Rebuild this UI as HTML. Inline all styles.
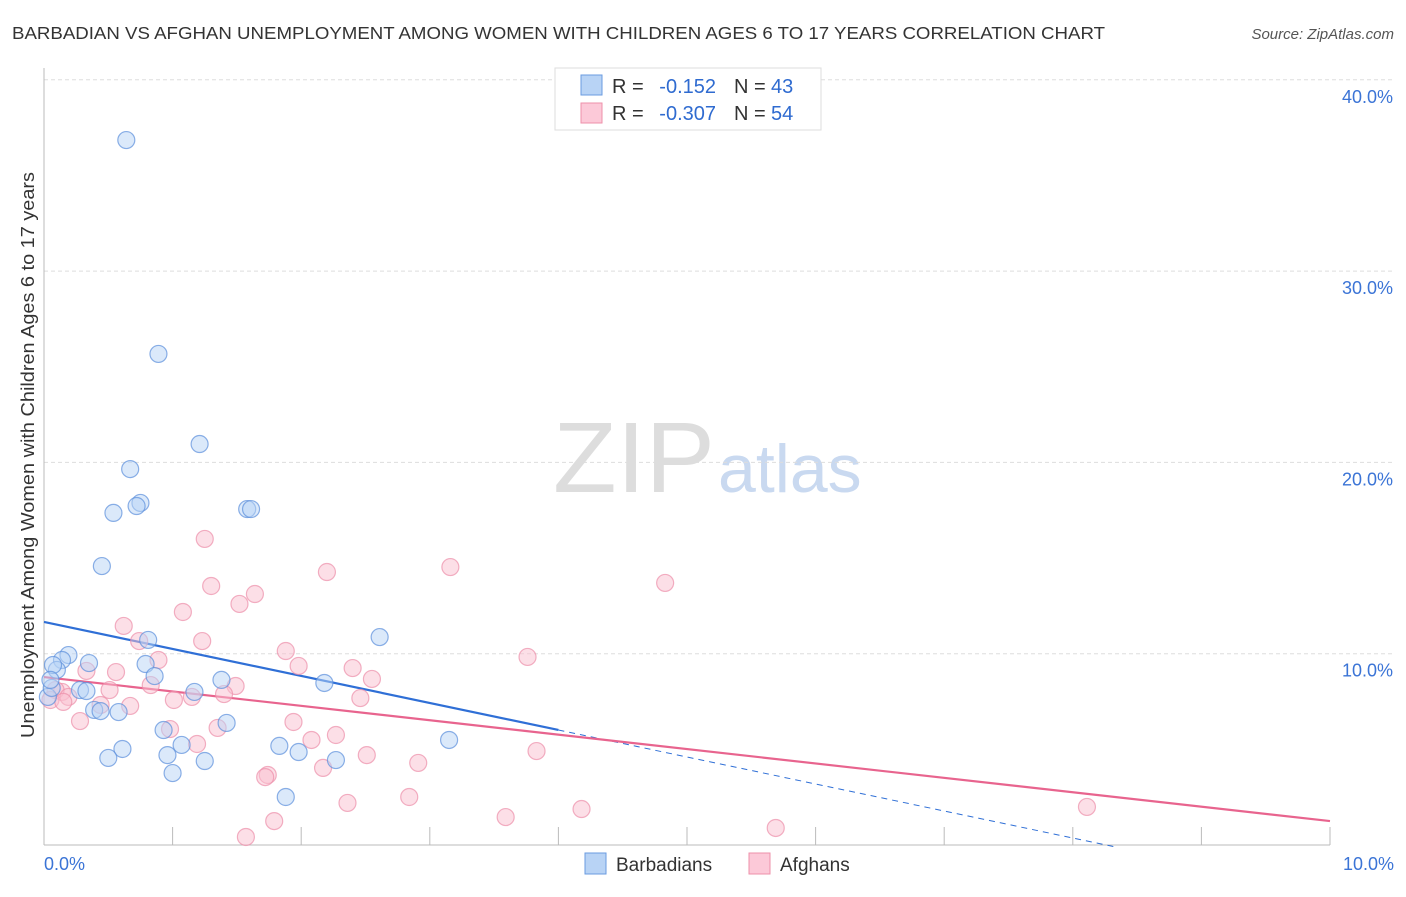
<!DOCTYPE html>
<html><head><meta charset="utf-8"><style>
body{margin:0;background:#fff;font-family:"Liberation Sans",sans-serif}
svg text{font-family:"Liberation Sans",sans-serif}
</style></head><body>
<svg id="chart" width="1406" height="892" viewBox="0 0 1406 892">
<text x="12" y="39" font-size="17.5" fill="#333" textLength="1093" lengthAdjust="spacingAndGlyphs">BARBADIAN VS AFGHAN UNEMPLOYMENT AMONG WOMEN WITH CHILDREN AGES 6 TO 17 YEARS CORRELATION CHART</text>
<text x="1394" y="39" font-size="15" fill="#555" text-anchor="end" font-style="italic">Source: ZipAtlas.com</text>
<g>
<text x="553" y="492" font-size="100" fill="#ddd" font-family="Liberation Serif, serif" textLength="162" lengthAdjust="spacingAndGlyphs">ZIP</text>
<text x="718" y="492" font-size="68" fill="#c9d9f0">atlas</text>
</g>
<g id="grid"></g>
<g id="axes"></g>
<g id="lines"></g>
<g id="points"></g>
<text transform="translate(34,455) rotate(-90)" text-anchor="middle" font-size="18" fill="#333" textLength="566" lengthAdjust="spacingAndGlyphs">Unemployment Among Women with Children Ages 6 to 17 years</text>
<g>
<rect x="555" y="68" width="266" height="62" fill="#fff" stroke="#ddd"/>
<rect x="581" y="75" width="21" height="20" fill="#b8d3f5" stroke="#6a9be0"/>
<rect x="581" y="103" width="21" height="20" fill="#fcc9d8" stroke="#ee90aa"/>
<text x="612" y="93" font-size="20" fill="#333">R =</text>
<text x="716" y="93" font-size="20" fill="#2f6bd0" text-anchor="end">-0.152</text>
<text x="734" y="93" font-size="20" fill="#333">N =</text>
<text x="771" y="93" font-size="20" fill="#2f6bd0">43</text>
<text x="612" y="120" font-size="20" fill="#333">R =</text>
<text x="716" y="120" font-size="20" fill="#2f6bd0" text-anchor="end">-0.307</text>
<text x="734" y="120" font-size="20" fill="#333">N =</text>
<text x="771" y="120" font-size="20" fill="#2f6bd0">54</text>
</g>
<g>
<rect x="585" y="853" width="21" height="21" fill="#b8d3f5" stroke="#6a9be0"/>
<text x="616" y="871" font-size="19" fill="#333">Barbadians</text>
<rect x="749" y="853" width="21" height="21" fill="#fcc9d8" stroke="#ee90aa"/>
<text x="780" y="871" font-size="19" fill="#333">Afghans</text>
</g>
</svg>
<script>
const blueX=[.64,.89,1.21,.67,.75,.72,.54,1.58,1.61,.45,2.61,.81,.19,.14,.35,.79,.10,.07,.86,2.18,1.38,.28,.33,1.17,.03,.06,.39,.58,.44,.93,1.42,1.07,1.83,.61,1.98,.96,.50,2.27,1.25,1.00,3.15,1.88,.05];
const blueY=[36.85,25.67,20.96,19.65,17.88,17.72,17.36,17.56,17.56,14.58,10.87,10.72,9.93,9.67,9.51,9.46,9.15,9.41,8.83,8.47,8.63,8.10,8.05,8.00,7.74,8.21,7.06,6.95,7.00,6.01,6.38,5.23,5.18,5.02,4.86,4.70,4.55,4.44,4.39,3.76,5.49,2.51,8.63];
const pinkX=[1.25,4.83,3.16,2.20,1.30,1.64,1.52,1.08,.62,.74,1.23,1.88,.89,3.76,2.40,1.98,2.55,.56,.33,.51,.83,1.49,1.40,2.46,1.01,1.15,.14,.09,.05,.19,.15,.44,.67,.28,.98,1.35,1.94,2.27,2.08,1.19,2.51,3.83,1.74,1.72,2.17,2.91,2.36,2.84,4.18,8.11,3.59,1.79,5.69,1.57];
const pinkY=[16.0,13.70,14.53,14.27,13.54,13.12,12.60,12.18,11.45,10.66,10.66,10.14,9.67,9.83,9.25,9.36,8.68,9.04,9.10,8.10,8.36,8.31,7.89,7.68,7.58,7.74,8.00,8.10,7.58,7.74,7.48,7.32,7.27,6.48,6.06,6.12,6.43,5.75,5.49,5.28,4.70,4.91,3.66,3.55,4.03,4.29,2.20,2.51,1.88,1.99,1.46,1.25,0.89,0.42];
const blueTrend=[11.66,-0.1];
const blueTrendX=[0,8.33];
const pinkTrend=[8.78,1.25];
const pinkTrendX=[0,10];
const yTicks=[10,20,30,40];
const yTickLabels=["10.0%","20.0%","30.0%","40.0%"];
const xTickLabels=["0.0%","10.0%"];

const NS="http://www.w3.org/2000/svg";
const sx=v=>44+v*128.6;
const sy=v=>845-v*19.13;
function mk(tag,attrs,parent){const e=document.createElementNS(NS,tag);for(const k in attrs)e.setAttribute(k,attrs[k]);document.getElementById(parent).appendChild(e);return e;}

yTicks.forEach((t,i)=>{
  const g=mk('line',{x1:44,x2:1395,y1:sy(t),y2:sy(t),stroke:'#ddd','stroke-dasharray':'4,3'},'grid');
  
  
  const l=mk('text',{x:1393,y:sy(t)+23,'text-anchor':'end','font-size':18,fill:'#3b74d6'},'axes');
  l.textContent=yTickLabels[i];
  
  
});
const ax=mk('line',{x1:44,x2:44,y1:68,y2:845,stroke:'#bbb'},'axes');


const bx=mk('line',{x1:44,x2:1330,y1:845,y2:845,stroke:'#bbb'},'axes');


for(let i=1;i<=10;i++){
  const t=mk('line',{x1:sx(i),x2:sx(i),y1:827,y2:845,stroke:'#bbb'},'axes');
  
  
}
[[0,'start',44],[10,'end',1394]].forEach((d,i)=>{
  const l=mk('text',{x:d[2],y:870,'text-anchor':d[1],'font-size':18,fill:'#3b74d6'},'axes');
  l.textContent=xTickLabels[i];
  
  
});

function pts(X,Y,fill,stroke,name){
  X.forEach((x,i)=>{
    const c=mk('circle',{cx:sx(x),cy:sy(Y[i]),r:8.5,fill:fill,'fill-opacity':0.5,stroke:stroke,'stroke-opacity':0.7,'stroke-width':1.2},'points');
    
    
  });
}
pts(pinkX,pinkY,'#f9c0d0','#ec8fa9','afghan-point');
pts(blueX,blueY,'#b8d3f5','#5b8fdc','barbadian-point');

const by=x=>blueTrend[0]+(blueTrend[1]-blueTrend[0])*(x-blueTrendX[0])/(blueTrendX[1]-blueTrendX[0]);
const b1=mk('line',{x1:sx(0),y1:sy(by(0)),x2:sx(4),y2:sy(by(4)),stroke:'#2f6fd6','stroke-width':2.2},'lines');


const b2=mk('line',{x1:sx(4),y1:sy(by(4)),x2:sx(blueTrendX[1]),y2:sy(by(blueTrendX[1])),stroke:'#2f6fd6','stroke-width':1,'stroke-dasharray':'6,5'},'lines');


const p1=mk('line',{x1:sx(pinkTrendX[0]),y1:sy(pinkTrend[0]),x2:sx(pinkTrendX[1]),y2:sy(pinkTrend[1]),stroke:'#e8648e','stroke-width':2.2},'lines');


</script>
</body></html>
